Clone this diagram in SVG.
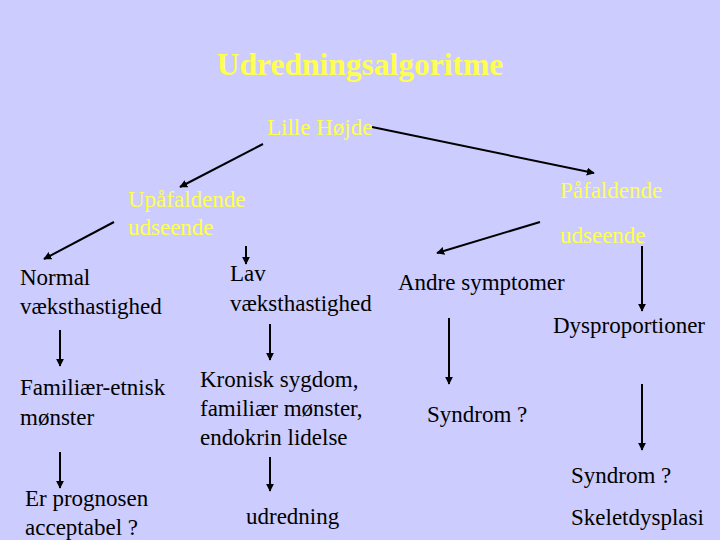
<svg xmlns="http://www.w3.org/2000/svg" width="720" height="540" viewBox="0 0 720 540">
<defs>
<marker id="ah" viewBox="0 0 10 10" refX="9" refY="5" markerWidth="4" markerHeight="4" orient="auto" markerUnits="strokeWidth">
<path d="M0,0 L10,5 L0,10 z" fill="#000"/>
</marker>
<style>
.y{fill:#FFFF4D}
.k{fill:#000}
.t{font-weight:bold;font-size:31.5px}
.c line{stroke:#000;stroke-width:2;marker-end:url(#ah)}
</style>
</defs>
<rect width="720" height="540" fill="#CCCCFF"/>
<g font-family="'Liberation Serif', 'Times New Roman', 'DejaVu Serif', serif" font-size="23">
<g id="title"><text class="y t" x="360" y="75" text-anchor="middle">Udredningsalgoritme</text></g>
<g id="lille"><text class="y" x="267" y="135">Lille Højde</text></g>
<g id="upaf"><text class="y" x="128" y="207">Upåfaldende</text><text class="y" x="128" y="235">udseende</text></g>
<g id="paf"><text class="y" x="560" y="198">Påfaldende</text><text class="y" x="560" y="243">udseende</text></g>
<g id="normal"><text class="k" x="20" y="285">Normal</text><text class="k" x="20" y="314">væksthastighed</text></g>
<g id="lav"><text class="k" x="230" y="281">Lav</text><text class="k" x="230" y="311">væksthastighed</text></g>
<g id="andre"><text class="k" x="398" y="290">Andre symptomer</text></g>
<g id="dysp"><text class="k" x="553" y="333">Dysproportioner</text></g>
<g id="famet"><text class="k" x="20" y="395">Familiær-etnisk</text><text class="k" x="20" y="425">mønster</text></g>
<g id="kron"><text class="k" x="200" y="387">Kronisk sygdom,</text><text class="k" x="200" y="416">familiær mønster,</text><text class="k" x="200" y="445">endokrin lidelse</text></g>
<g id="synd1"><text class="k" x="427" y="422">Syndrom ?</text></g>
<g id="synd2"><text class="k" x="571" y="483">Syndrom ?</text></g>
<g id="skel"><text class="k" x="571" y="525">Skeletdysplasi</text></g>
<g id="prog"><text class="k" x="25" y="506">Er prognosen</text><text class="k" x="25" y="535">acceptabel ?</text></g>
<g id="udr"><text class="k" x="246" y="524">udredning</text></g>
</g>
<g id="connectors" class="c">
<line x1="263" y1="144" x2="180" y2="187"/>
<line x1="372" y1="127" x2="594" y2="173"/>
<line x1="540" y1="222" x2="437" y2="253"/>
<line x1="114" y1="222" x2="44" y2="259"/>
<line x1="246" y1="246" x2="246" y2="264"/>
<line x1="642" y1="246" x2="642" y2="311"/>
<line x1="60" y1="330" x2="60" y2="366"/>
<line x1="270" y1="324" x2="270" y2="360"/>
<line x1="449" y1="318" x2="449" y2="384"/>
<line x1="642" y1="384" x2="642" y2="450"/>
<line x1="60" y1="452" x2="60" y2="488"/>
<line x1="270" y1="457" x2="270" y2="491"/>
</g>
</svg>
